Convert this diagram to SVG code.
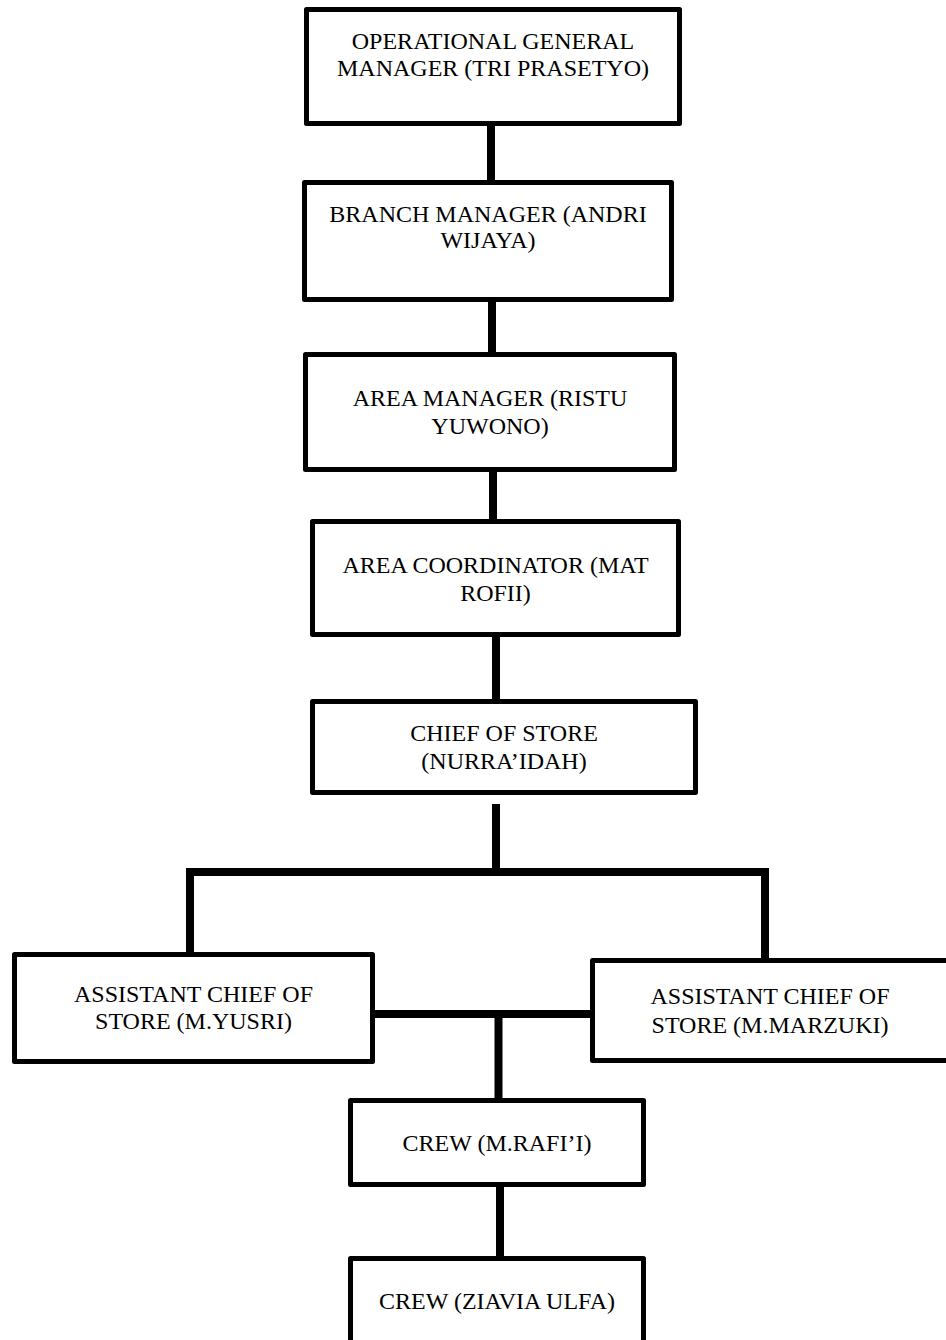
<svg xmlns="http://www.w3.org/2000/svg" width="946" height="1340" viewBox="0 0 946 1340">
<style>
.box{fill:#fff;stroke:#000;stroke-width:5;stroke-linejoin:round}
.lbl{font-family:"Liberation Serif","Times New Roman",serif;font-size:24px;fill:#000;text-anchor:middle}
.con{fill:none;stroke:#000;stroke-width:8;stroke-linejoin:miter}
</style>
<rect width="946" height="1340" fill="#fff"/>
<g id="connectors">
<line class="con" x1="491" y1="124" x2="491" y2="182"/>
<line class="con" x1="492" y1="300" x2="492" y2="354"/>
<line class="con" x1="493" y1="470" x2="493" y2="521"/>
<line class="con" x1="496" y1="635" x2="496" y2="701"/>
<line class="con" x1="496" y1="804" x2="496" y2="872"/>
<path class="con" d="M190,954 V872 H765 V960"/>
<line class="con" x1="373" y1="1014" x2="592" y2="1014"/>
<line class="con" x1="498.5" y1="1014" x2="498.5" y2="1100"/>
<line class="con" x1="500" y1="1185" x2="500" y2="1258"/>
</g>
<g id="ogm">
<rect class="box" x="306.5" y="9.5" width="373" height="114"/>
<text class="lbl" x="493" y="49">OPERATIONAL GENERAL</text>
<text class="lbl" x="493" y="76">MANAGER (TRI PRASETYO)</text>
</g>
<g id="bm">
<rect class="box" x="304.5" y="182.5" width="367" height="117"/>
<text class="lbl" x="488" y="222">BRANCH MANAGER (ANDRI</text>
<text class="lbl" x="488" y="248">WIJAYA)</text>
</g>
<g id="am">
<rect class="box" x="305.5" y="354.5" width="369" height="115"/>
<text class="lbl" x="490" y="406">AREA MANAGER (RISTU</text>
<text class="lbl" x="490" y="434">YUWONO)</text>
</g>
<g id="ac">
<rect class="box" x="312.5" y="521.5" width="366" height="113"/>
<text class="lbl" x="495.5" y="573">AREA COORDINATOR (MAT</text>
<text class="lbl" x="495.5" y="601">ROFII)</text>
</g>
<g id="cos">
<rect class="box" x="312.5" y="701.5" width="383" height="91"/>
<text class="lbl" x="504" y="741">CHIEF OF STORE</text>
<text class="lbl" x="504" y="769">(NURRA’IDAH)</text>
</g>
<g id="acos1">
<rect class="box" x="14.5" y="954.5" width="358" height="107"/>
<text class="lbl" x="193.5" y="1002">ASSISTANT CHIEF OF</text>
<text class="lbl" x="193.5" y="1029">STORE (M.YUSRI)</text>
</g>
<g id="acos2">
<rect class="box" x="592.5" y="960.5" width="370" height="100"/>
<text class="lbl" x="770" y="1004">ASSISTANT CHIEF OF</text>
<text class="lbl" x="770" y="1033">STORE (M.MARZUKI)</text>
</g>
<g id="crew1">
<rect class="box" x="350.5" y="1100.5" width="293" height="84"/>
<text class="lbl" x="497" y="1151">CREW (M.RAFI’I)</text>
</g>
<g id="crew2">
<rect class="box" x="350.5" y="1258.5" width="293" height="100"/>
<text class="lbl" x="497" y="1309">CREW (ZIAVIA ULFA)</text>
</g>
</svg>
